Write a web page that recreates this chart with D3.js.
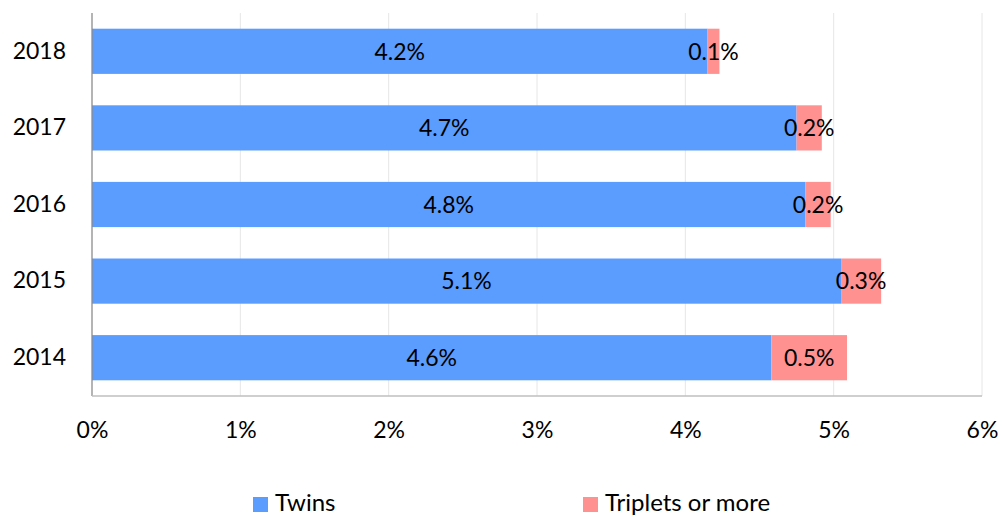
<!DOCTYPE html>
<html><head><meta charset="utf-8">
<script src="https://cdn.jsdelivr.net/npm/d3@7"></script>
<style>body{margin:0;background:#fff}svg{display:block}text{font-family:Lato,"Open Sans",sans-serif;fill:#000}</style>
</head><body><svg id="c" width="1002" height="517"></svg>
<script>
const years = ["2018","2017","2016","2015","2014"];
const twins = [4.15, 4.75, 4.81, 5.05, 4.58];
const triplets = [0.08, 0.17, 0.17, 0.27, 0.51];
const twinLabels = ["4.2%","4.7%","4.8%","5.1%","4.6%"];
const tripLabels = ["0.1%","0.2%","0.2%","0.3%","0.5%"];
const xTicks = [0,1,2,3,4,5,6];
const seriesNames = ["Twins","Triplets or more"];
const colors = ["#5b9cff","#ff9191"];

const svg = d3.select("#c");
const m = {l:92, r:982, t:13, b:396};
const x = d3.scaleLinear().domain([0,6]).range([m.l, m.r]);
const y = d3.scaleBand().domain(years).range([m.t, m.b]).paddingInner(0.41).paddingOuter(0.205);
const fs = 23;

// gridlines
svg.append("g").selectAll("line").data(xTicks.slice(1)).join("line")
  .attr("x1", d=>x(d)).attr("x2", d=>x(d)).attr("y1", m.t).attr("y2", m.b)
  .attr("stroke","#e6e6e6").attr("stroke-width",1);

// bars
const g = svg.append("g");
years.forEach((yr,i)=>{
  g.append("rect").attr("x", x(0)).attr("y", y(yr)).attr("width", x(twins[i])-x(0)).attr("height", y.bandwidth()).attr("fill", colors[0]);
  g.append("rect").attr("x", x(twins[i])).attr("y", y(yr)).attr("width", x(twins[i]+triplets[i])-x(twins[i])).attr("height", y.bandwidth()).attr("fill", colors[1]);
  const cy = y(yr)+y.bandwidth()/2;
  g.append("text").attr("x", (x(0)+x(twins[i]))/2).attr("y", cy).attr("dy","0.36em").attr("text-anchor","middle").attr("font-size",fs).text(twinLabels[i]);
  g.append("text").attr("x", (x(twins[i])+x(twins[i]+triplets[i]))/2).attr("y", cy).attr("dy","0.36em").attr("text-anchor","middle").attr("font-size",fs).text(tripLabels[i]);
});

// axes lines
svg.append("line").attr("x1",m.l).attr("x2",m.l).attr("y1",m.t).attr("y2",m.b).attr("stroke","#8c8c8c").attr("stroke-width",1.3);
svg.append("line").attr("x1",m.l).attr("x2",m.r).attr("y1",m.b).attr("y2",m.b).attr("stroke","#bfbfbf").attr("stroke-width",1.3);

// y labels
const yAxis = d3.axisLeft(y).tickSize(0).tickPadding(26);
const ya = svg.append("g").attr("transform",`translate(${m.l},0)`).call(yAxis);
ya.select(".domain").remove();
ya.selectAll("text").attr("font-size",fs).attr("font-family","Lato").attr("fill","#000");

// x labels
const xAxis = d3.axisBottom(x).tickValues(xTicks).tickFormat(d=>d+"%").tickSize(0).tickPadding(26);
const xa = svg.append("g").attr("transform",`translate(0,${m.b})`).call(xAxis);
xa.select(".domain").remove();
xa.selectAll("text").attr("font-size",fs).attr("font-family","Lato").attr("fill","#000");

// legend
const legX = [253, 583];
seriesNames.forEach((n,i)=>{
  svg.append("rect").attr("x",legX[i]).attr("y",497).attr("width",15).attr("height",15).attr("fill",colors[i]);
  svg.append("text").attr("x",legX[i]+22).attr("y",511).attr("font-size",24).text(n);
});
</script></body></html>
